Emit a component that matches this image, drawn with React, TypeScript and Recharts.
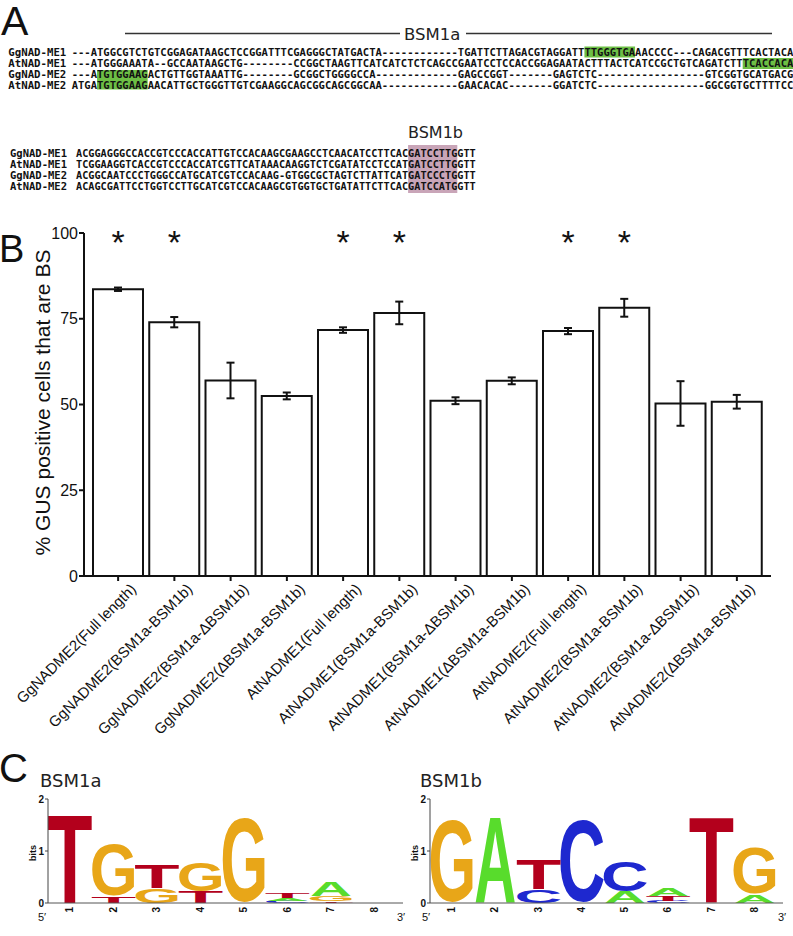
import React from 'react';
import { ComposedChart, BarChart, Bar, XAxis, YAxis, ErrorBar, Scatter, Label } from 'recharts';

// ---------- Panel B data ----------
const constructs = [
  'GgNADME2(Full length)',
  'GgNADME2(BSM1a-BSM1b)',
  'GgNADME2(BSM1a-\u0394BSM1b)',
  'GgNADME2(\u0394BSM1a-BSM1b)',
  'AtNADME1(Full length)',
  'AtNADME1(BSM1a-BSM1b)',
  'AtNADME1(BSM1a-\u0394BSM1b)',
  'AtNADME1(\u0394BSM1a-BSM1b)',
  'AtNADME2(Full length)',
  'AtNADME2(BSM1a-BSM1b)',
  'AtNADME2(BSM1a-\u0394BSM1b)',
  'AtNADME2(\u0394BSM1a-BSM1b)',
];
const bsPercent = [83.6, 74.0, 57.0, 52.5, 71.7, 76.7, 51.1, 56.9, 71.4, 78.2, 50.3, 50.8];
const bsError = [0.5, 1.5, 5.2, 1.0, 0.8, 3.3, 1.0, 1.0, 0.9, 2.6, 6.5, 2.0];
const significant = [true, true, false, false, true, true, false, false, true, true, false, false];
const starLevel = 100;
const yTicks = [0, 25, 50, 75, 100];

const chartData = constructs.map((name, i) => ({
  name,
  value: bsPercent[i],
  err: bsError[i],
  star: starLevel,
  sig: significant[i],
}));

// ---------- Panel C data ----------
const logoPositions = ['1', '2', '3', '4', '5', '6', '7', '8'];
const bsm1aLetters = [['T'], ['T', 'G'], ['G', 'T'], ['T', 'G'], ['G'], ['C', 'A', 'T'], ['T', 'G', 'A'], []];
const bsm1aBits = [[1.73], [0.13, 1.06], [0.29, 0.47], [0.22, 0.58], [1.73], [0.04, 0.06, 0.1], [0.03, 0.11, 0.28], []];
const bsm1bLetters = [['G'], ['A'], ['C', 'T'], ['C'], ['A', 'C'], ['C', 'T', 'A'], ['T'], ['A', 'G']];
const bsm1bBits = [[1.68], [1.68], [0.26, 0.58], [1.68], [0.22, 0.61], [0.04, 0.09, 0.14], [1.68], [0.16, 0.93]];
const bitTicks = [0, 1, 2];

const buildLogo = (letters: string[][], bits: number[][]) =>
  logoPositions.map((pos, i) => {
    const row: any = { pos };
    for (let k = 0; k < 3; k++) {
      row['h' + k] = bits[i][k] || 0;
      row['l' + k] = letters[i][k] || '';
    }
    return row;
  });
const logoA = buildLogo(bsm1aLetters, bsm1aBits);
const logoB = buildLogo(bsm1bLetters, bsm1bBits);

// ---------- Panel A text ----------
const alignNames = ['GgNAD-ME1', 'AtNAD-ME1', 'GgNAD-ME2', 'AtNAD-ME2'];
const d = (n: number) => '-'.repeat(n);
const block1 = [
  '---ATGGCGTCTGTCGGAGATAAGCTCCGGATTTCGAGGGCTATGACTA' + d(12) + 'TGATTCTTAGACGTAGGATTTTGGGTGAAACCCC---CAGACGTTTCACTACA',
  '---ATGGGAAATA--GCCAATAAGCTG' + d(8) + 'CCGGCTAAGTTCATCATCTCTCAGCCGAATCCTCCACCGGAGAATACTTTACTCATCCGCTGTCAGATCTTTCACCACA',
  '---ATGTGGAAGACTGTTGGTAAATTG' + d(8) + 'GCGGCTGGGGCCA' + d(13) + 'GAGCCGGT' + d(7) + 'GAGTCTC' + d(17) + 'GTCGGTGCATGACG',
  'ATGATGTGGAAGAACATTGCTGGGTTGTCGAAGGCAGCGGCAGCGGCAA' + d(12) + 'GAACACAC' + d(7) + 'GGATCTC' + d(17) + 'GGCGGTGCTTTTCC',
];
const block2 = [
  'ACGGAGGGCCACCGTCCCACCATTGTCCACAAGCGAAGCCTCAACATCCTTCACGATCCTTGGTT',
  'TCGGAAGGTCACCGTCCCACCATCGTTCATAAACAAGGTCTCGATATCCTCCATGATCCTTGGTT',
  'ACGGCAATCCCTGGGCCATGCATCGTCCACAAG-GTGGCGCTAGTCTTATTCATGATCCCTGGTT',
  'ACAGCGATTCCTGGTCCTTGCATCGTCCACAAGCGTGGTGCTGATATTCTTCACGATCCATGGTT',
];

const SANS = "'Liberation Sans', Arial, Helvetica, sans-serif";
const MONO = "'DejaVu Sans Mono', monospace";
const DJ = "'DejaVu Sans', sans-serif";

// glyph ink boxes (Arial Bold units)
const GLYPH: any = {
  T: { x0: 22, x1: 589, y0: 0, y1: 716 },
  G: { x0: 44, x1: 725, y0: -19, y1: 737 },
  A: { x0: 0, x1: 722, y0: 0, y1: 716 },
  C: { x0: 44, x1: 681, y0: -19, y1: 737 },
};
const LETTER_COLORS: any = { T: '#b3001c', G: '#e8a618', A: '#58dc2c', C: '#1e28cf' };

const letterShape = (layer: number) => (props: any) => {
  const { x, y, width, height, payload } = props;
  const letter = payload ? payload['l' + layer] : '';
  if (!letter || !height || height < 0.4) return <g />;
  const g = GLYPH[letter];
  const k = 0.1;
  const sx = width / ((g.x1 - g.x0) * k);
  const sy = height / ((g.y1 - g.y0) * k);
  return (
    <g transform={`translate(${x},${y + height}) scale(${sx},${sy})`}>
      <text x={-g.x0 * k} y={g.y0 * k} fontSize={100} fontWeight="bold" fontFamily={SANS} fill={LETTER_COLORS[letter]}>
        {letter}
      </text>
    </g>
  );
};

const ConstructTick = (props: any) => {
  const { x, y, payload } = props;
  return (
    <text transform={`translate(${x + 19},${y + 7}) rotate(-45)`} textAnchor="end" fontSize={15} fontFamily={SANS} fill="#111">
      {payload.value}
    </text>
  );
};

const StarShape = (props: any) => {
  const { cx, cy, payload } = props;
  if (!payload || !payload.sig) return <g />;
  return (
    <text x={cx} y={cy + 21} textAnchor="middle" fontSize={34} fontFamily={SANS} fill="#111">
      *
    </text>
  );
};

const YLabel = (props: any) => {
  const vb = props.viewBox || { y: 33, height: 343 };
  const cy = vb.y + vb.height / 2;
  return (
    <text transform={`translate(42,${cy - 2}) rotate(-90)`} textAnchor="middle" dominantBaseline="central" fontSize={21} fontFamily={SANS} fill="#111">
      % GUS positive cells that are BS
    </text>
  );
};

const BitsLabel = (props: any) => {
  const vb = props.viewBox || { y: 19, height: 104 };
  const cy = vb.y + vb.height / 2;
  return (
    <text transform={`translate(33,${cy + 2}) rotate(-90)`} textAnchor="middle" dominantBaseline="central" fontSize={9} fontWeight="bold" fontFamily={SANS} fill="#111">
      bits
    </text>
  );
};

const PosTick = (props: any) => {
  const { x, y, payload } = props;
  return (
    <text transform={`translate(${x + 3.5},${y + 2}) rotate(-90)`} textAnchor="end" fontSize={10} fontWeight="bold" fontFamily={SANS} fill="#111">
      {payload.value}
    </text>
  );
};

const Logo = ({ data, width, right }: { data: any[]; width: number; right: number }) => (
  <BarChart width={width} height={150} data={data} margin={{ top: 19, right, bottom: 7, left: 20 }} barCategoryGap={0}>
    <XAxis
      dataKey="pos"
      interval={0}
      height={20}
      tickLine={false}
      tickSize={0}
      tickMargin={2}
      tick={PosTick}
      padding={{ left: 0, right: 7 }}
      axisLine={{ stroke: '#555', strokeWidth: 1 }}
    />
    <YAxis
      domain={[0, 2]}
      ticks={bitTicks}
      width={28}
      tickSize={3}
      tickMargin={1}
      axisLine={{ stroke: '#444', strokeWidth: 1 }}
      tickLine={{ stroke: '#444', strokeWidth: 1 }}
      tick={{ fontSize: 10, fontWeight: 'bold', fill: '#111', fontFamily: SANS }}
    >
      <Label content={BitsLabel} />
    </YAxis>
    {[0, 1, 2].map((i) => (
      <Bar key={i} dataKey={'h' + i} stackId="s" barSize={42} shape={letterShape(i)} isAnimationActive={false} />
    ))}
  </BarChart>
);

export default function App() {
  const p1 = 6.33;
  const x1 = 71.7;
  const p2 = 6.15;
  const x2 = 76;
  const base1 = [56, 66.8, 78.3, 89.3];
  const base2 = [156.5, 167.5, 179, 190];
  return (
    <div style={{ position: 'absolute', left: 0, top: 0, width: 793, height: 936, background: '#fff', overflow: 'hidden' }}>
      {/* Panel B */}
      <div style={{ position: 'absolute', left: 0, top: 200 }}>
        <ComposedChart width={793} height={560} data={chartData} margin={{ top: 33, right: 22, bottom: 34, left: 24 }} style={{ fontFamily: SANS }}>
          <XAxis
            dataKey="name"
            interval={0}
            height={150}
            tickSize={5}
            tick={ConstructTick}
            padding={{ left: 6, right: 6 }}
            axisLine={{ stroke: '#111', strokeWidth: 2 }}
            tickLine={{ stroke: '#111', strokeWidth: 2 }}
          />
          <YAxis
            domain={[0, 100]}
            ticks={yTicks}
            width={60}
            tickSize={5}
            tickMargin={1}
            axisLine={{ stroke: '#111', strokeWidth: 2 }}
            tickLine={{ stroke: '#111', strokeWidth: 2 }}
            tick={{ fontSize: 16, fill: '#111', fontFamily: SANS }}
          >
            <Label content={YLabel} />
          </YAxis>
          <Bar dataKey="value" fill="#fff" stroke="#111" strokeWidth={2} barSize={50} isAnimationActive={false}>
            <ErrorBar dataKey="err" width={4} strokeWidth={2} stroke="#111" direction="y" />
          </Bar>
          <Scatter dataKey="star" shape={StarShape} isAnimationActive={false} />
        </ComposedChart>
      </div>

      {/* Panel C logos */}
      <div style={{ position: 'absolute', left: 0, top: 780 }}>
        <Logo data={logoA} width={420} right={17} />
      </div>
      <div style={{ position: 'absolute', left: 382, top: 780 }}>
        <Logo data={logoB} width={411} right={10} />
      </div>

      {/* Panel A and labels overlay */}
      <svg width={793} height={936} style={{ position: 'absolute', left: 0, top: 0, pointerEvents: 'none' }}>
        <text x={1} y={35} fontSize={41} fontFamily={SANS} fill="#111">A</text>
        <text x={-1} y={262} fontSize={38} fontFamily={SANS} fill="#111">B</text>
        <text x={-1} y={782} fontSize={40} fontFamily={SANS} fill="#111">C</text>

        {/* BSM1a bracket */}
        <line x1={125} y1={33.5} x2={400} y2={33.5} stroke="#333" strokeWidth={1.5} />
        <line x1={466} y1={33.5} x2={772} y2={33.5} stroke="#333" strokeWidth={1.5} />
        <text x={404} y={39.5} fontSize={16.5} fontFamily={DJ} fill="#222">BSM1a</text>

        {/* highlights block 1 */}
        <rect x={x1 + 81 * p1} y={46.5} width={8 * p1} height={11} fill="#6dbf45" />
        <rect x={x1 + 106 * p1} y={58} width={8 * p1} height={11} fill="#6dbf45" />
        <rect x={x1 + 4 * p1} y={70} width={8 * p1} height={19.5} fill="#6dbf45" />
        {alignNames.map((n, i) => (
          <text key={'n1' + i} x={8.3} y={base1[i]} fontSize={10} fontWeight="bold" fontFamily={MONO} fill="#111" textLength={58} lengthAdjust="spacingAndGlyphs">{n}</text>
        ))}
        {block1.map((s, i) => (
          <text key={'s1' + i} x={x1} y={base1[i]} fontSize={10} fontWeight="bold" fontFamily={MONO} fill="#111" textLength={s.length * p1} lengthAdjust="spacingAndGlyphs">{s}</text>
        ))}

        {/* block 2 */}
        <text x={408} y={137.5} fontSize={16} fontFamily={DJ} fill="#222">BSM1b</text>
        <rect x={x2 + 54 * p2} y={145} width={8 * p2} height={48} fill="#c9a5b8" />
        {alignNames.map((n, i) => (
          <text key={'n2' + i} x={10} y={base2[i]} fontSize={10.5} fontWeight="bold" fontFamily={MONO} fill="#111" textLength={57} lengthAdjust="spacingAndGlyphs">{n}</text>
        ))}
        {block2.map((s, i) => (
          <text key={'s2' + i} x={x2} y={base2[i]} fontSize={10.5} fontWeight="bold" fontFamily={MONO} fill="#111" textLength={s.length * p2} lengthAdjust="spacingAndGlyphs">{s}</text>
        ))}

        {/* Panel C titles */}
        <text x={40} y={787} fontSize={18} fontFamily={DJ} fill="#222">BSM1a</text>
        <text x={420} y={787} fontSize={18} fontFamily={DJ} fill="#222">BSM1b</text>
        <text x={38} y={921} fontSize={11} fontFamily={SANS} fill="#111">5′</text>
        <text x={397} y={921} fontSize={11} fontFamily={SANS} fill="#111">3′</text>
        <text x={422} y={921} fontSize={11} fontFamily={SANS} fill="#111">5′</text>
        <text x={778} y={921} fontSize={11} fontFamily={SANS} fill="#111">3′</text>
      </svg>
    </div>
  );
}
